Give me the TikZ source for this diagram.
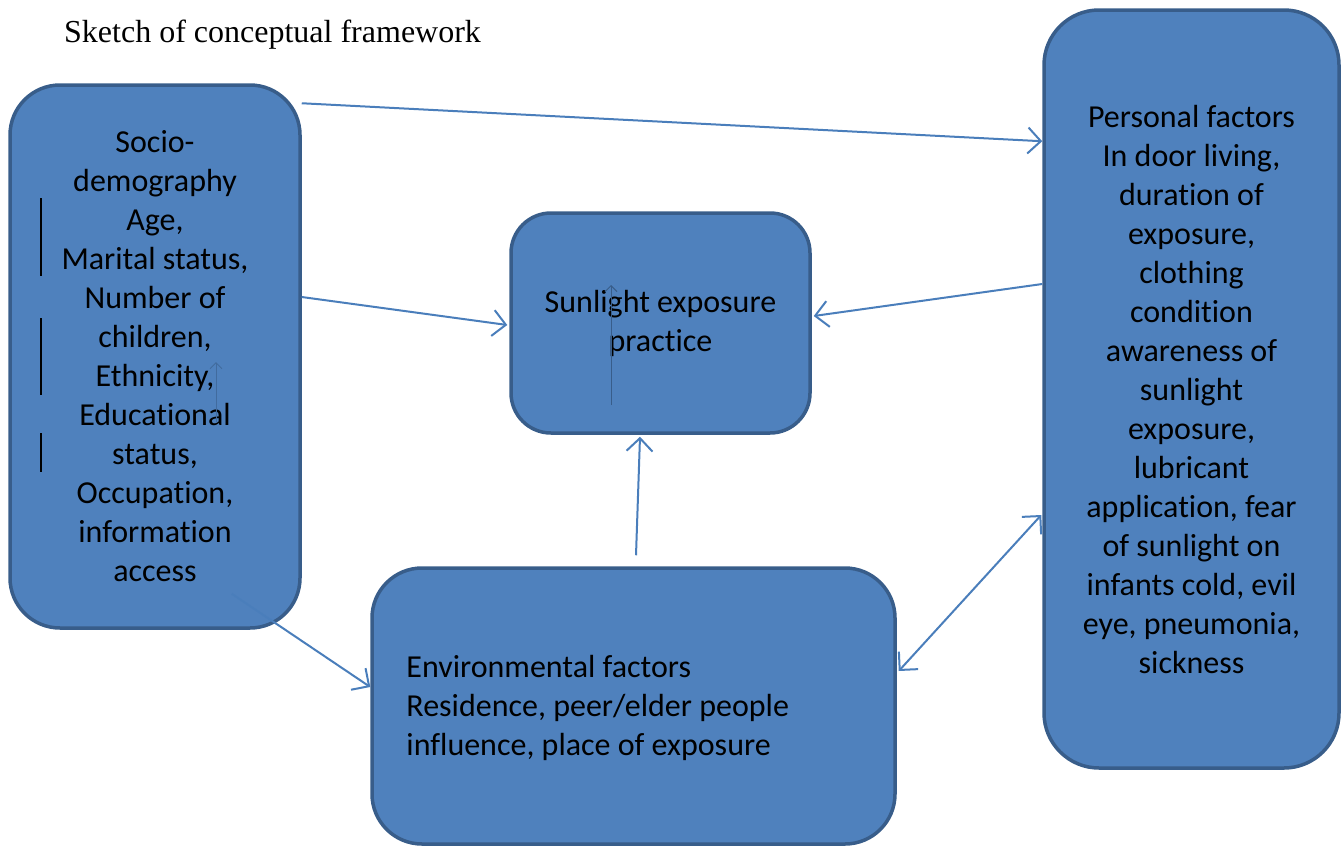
\documentclass[tikz,border=0pt]{standalone}
\usepackage{fontspec}
\setmainfont{Liberation Serif}
\newfontfamily\boxfont[Ligatures={NoCommon}]{Carlito}
\usetikzlibrary{positioning, arrows.meta, calc}

\definecolor{boxfill}{HTML}{4F81BD}
\definecolor{boxline}{HTML}{385D8A}
\definecolor{arrowcol}{HTML}{4A7EBB}

\tikzset{
  factor/.style={draw=boxline, fill=boxfill, line width=3.5pt, rounded corners=#1, inner sep=0pt},
  factor/.default=50pt,
  boxtext/.style={font=\boxfont\fontsize{32}{39}\selectfont, inner sep=0pt},
  link/.style={draw=arrowcol, line width=2pt, -{Straight Barb[length=13pt,width=26pt,line width=2pt]}},
  twolink/.style={link, {Straight Barb[length=13pt,width=26pt,line width=2pt]}-{Straight Barb[length=13pt,width=26pt,line width=2pt]}},
}

\begin{document}
\begin{tikzpicture}[x=1pt, y=-1pt]
    \useasboundingbox (0,0) rectangle (1341,846);

    % title
    \node[anchor=base west, inner sep=0pt, font=\fontsize{32}{38}\selectfont] (title) at (64,42) {Sketch of conceptual framework};

    % socio-demography
    \node[factor, minimum width=290pt, minimum height=543pt, boxtext, align=center] (sd) at (155,356.5)
        {Socio-\\demography\\Age,\\Marital status,\\Number of\\children,\\Ethnicity,\\Educational\\status,\\Occupation,\\information\\access};

    % sunlight exposure practice
    \node[factor=40pt, minimum width=299pt, minimum height=220pt, boxtext, align=center] (sp) at (660.5,323)
        {Sunlight exposure\\practice};

    % personal factors
    \node[factor=55pt, minimum width=295pt, minimum height=758pt, boxtext, align=center] (pf) at (1191.5,389)
        {Personal factors\\In door living,\\duration of\\exposure,\\clothing\\condition\\awareness of\\sunlight\\exposure,\\lubricant\\application, fear\\of sunlight on\\infants cold, evil\\eye, pneumonia,\\sickness};

    % environmental factors
    \node[factor, minimum width=523pt, minimum height=276pt] (ef) at (633.5,706) {};
    \node[boxtext, anchor=west, align=left] (eftext) at ([xshift=36pt,yshift=-2pt]ef.west)
        {Environmental factors\\Residence, peer/elder people\\influence, place of exposure};

    % stray marks
    \draw[line width=1.5pt] (41,198) -- (41,276);
    \draw[line width=1.5pt] (41,318) -- (41,395);
    \draw[line width=1.5pt] (41,433) -- (41,472);
    \draw[boxline, line width=1pt, -{Straight Barb[length=6pt,width=12pt]}] (611,405) -- (611,285);
    \draw[boxline!60!boxfill, line width=1pt, -{Straight Barb[length=6pt,width=12pt]}] (216,422) -- (216,362);

    % arrows
    \draw[link] ([yshift=-20pt]sd.north east) -- ([yshift=-133pt]pf.north west);
    \draw[link] ([yshift=59.5pt]sd.east) -- ([xshift=-2pt,yshift=-2pt]sp.west);
    \draw[link] ([yshift=105pt]pf.west) -- ([xshift=2pt,yshift=7pt]sp.east);
    \draw[link] ([xshift=2.5pt,yshift=11pt]ef.north) -- ([xshift=-20.5pt,yshift=-2pt]sp.south);
    \draw[link] ([xshift=-70pt,yshift=36pt]sd.south east) -- ([yshift=19pt]ef.west);
    \draw[twolink] ([xshift=2pt,yshift=35pt]ef.east) -- ([xshift=-1pt,yshift=-126pt]pf.west);

\end{tikzpicture}
\end{document}
